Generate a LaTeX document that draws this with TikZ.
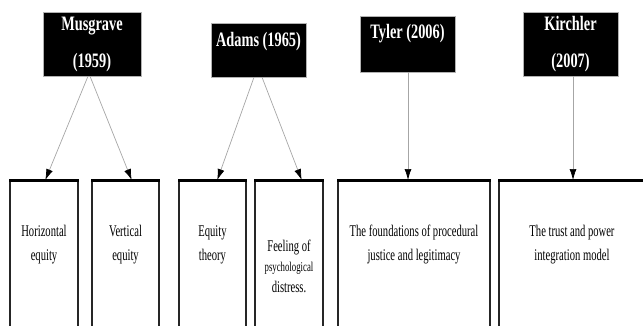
\documentclass[tikz,border=0pt]{standalone}
\usepackage{fontspec}
\setmainfont{Liberation Serif}
\newfontfamily\hdrfont[FakeStretch=0.7]{Liberation Serif}
\newfontfamily\bodyfont[FakeStretch=0.65]{Liberation Serif}
\usetikzlibrary{arrows.meta}
\tikzset{
  hdr/.style={fill=black, draw=gray!60, line width=0.4pt, text=white,
    font=\hdrfont\bfseries\fontsize{20.5}{37}\selectfont, align=center, inner sep=0pt},
  cbox/.style={inner sep=0pt, font=\bodyfont\fontsize{16.3}{24}\selectfont, align=center},
  side/.style={line width=1.6pt, draw=black!85},
  topline/.style={line width=2.8pt, draw=black},
  conn/.style={draw=gray!70, line width=0.7pt, shorten >=0.8pt, -{Latex[length=11pt,width=7pt,color=black]}},
}
\begin{document}
\begin{tikzpicture}[x=1pt, y=-1pt]
\clip (0,0) rectangle (643,325);
\coordinate (bot) at (0,330);
% header boxes
\node[hdr, minimum width=98pt, minimum height=64pt] (mus) at (92,44) {Musgrave\\(1959)};
\node[hdr, minimum width=95pt, minimum height=54pt, text height=14pt, text depth=22pt] (ada) at (258.5,50) {Adams (1965)};
\node[hdr, minimum width=95pt, minimum height=56pt, text height=14pt, text depth=24.6pt] (tyl) at (407.5,44) {Tyler (2006)};
\node[hdr, minimum width=95pt, minimum height=64pt] (kir) at (570.5,44) {Kirchler\\(2007)};
% content boxes
\node[cbox, minimum width=68pt, minimum height=128pt] (b1) at (44,245) {Horizontal\\equity};
\node[cbox, minimum width=67pt, minimum height=128pt] (b2) at (125.5,245) {Vertical\\equity};
\node[cbox, minimum width=67pt, minimum height=128pt] (b3) at (212.5,245) {Equity\\theory};
\node[cbox, minimum width=68pt, minimum height=170pt] (b4) at (289,266) {Feeling of\\[-3.5pt]{\fontsize{13.5}{16}\selectfont psychological}\\[-3.5pt]distress.};
\node[cbox, minimum width=152pt, minimum height=128pt] (b5) at (414,245) {The foundations of procedural\\justice and legitimacy};
\node[cbox, minimum width=146pt, minimum height=128pt] (b6) at (572,245) {The trust and power\\integration model};
\foreach \b in {b1,b2,b3,b4,b5,b6}{
  \draw[side] (\b.north west) -- (\b.north west |- bot) (\b.north east) -- (\b.north east |- bot);
  \draw[topline] ([xshift=-0.8pt]\b.north west) -- ([xshift=0.8pt]\b.north east);
}
% connectors
\draw[conn] ([xshift=-4pt]mus.south) -- ([xshift=1pt]b1.north);
\draw[conn] ([xshift=-2pt]mus.south) -- ([xshift=6.5pt]b2.north);
\draw[conn] ([xshift=-4.5pt]ada.south) -- ([xshift=4.5pt]b3.north);
\draw[conn] ([xshift=3.5pt]ada.south) -- ([xshift=13pt]b4.north);
\draw[conn] ([xshift=0.5pt]tyl.south) -- ([xshift=-6pt]b5.north);
\draw[conn] ([xshift=2.5pt]kir.south) -- ([xshift=1pt]b6.north);
\end{tikzpicture}
\end{document}
